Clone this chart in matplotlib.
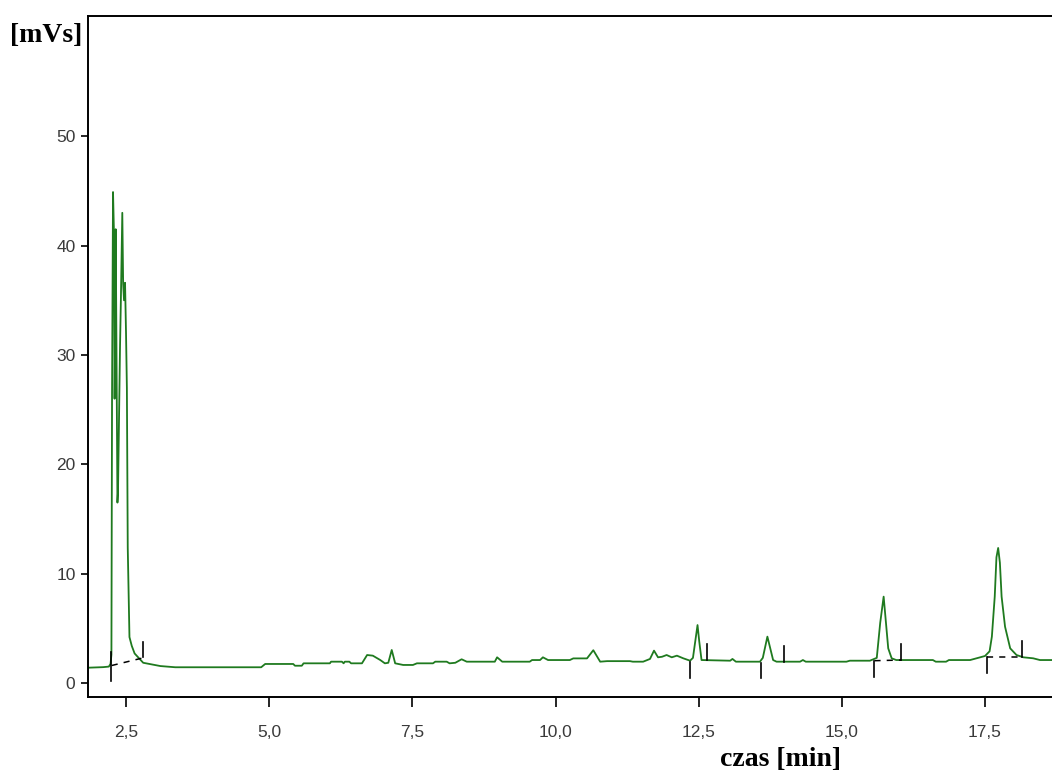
import matplotlib
matplotlib.use("Agg")
import matplotlib.pyplot as plt

# chromatogram trace (time in min, signal in mVs)
time_min = [1.84, 2.10, 2.20, 2.23, 2.245, 2.256, 2.273, 2.29, 2.30, 2.307, 2.32,
            2.334, 2.35, 2.36, 2.38, 2.395, 2.41, 2.435, 2.45, 2.465, 2.483, 2.50,
            2.515, 2.53, 2.56, 2.60, 2.65, 2.72, 2.80, 2.95, 3.10, 3.36,
            4.86, 4.93, 5.42, 5.45, 5.57, 5.60, 6.06, 6.08, 6.27, 6.30, 6.32, 6.40,
            6.43, 6.62, 6.68, 6.71, 6.81, 6.94, 7.02, 7.08, 7.14, 7.20, 7.34, 7.51,
            7.58, 7.86, 7.90, 8.10, 8.15, 8.25, 8.36, 8.45, 8.94, 8.98, 9.07, 9.55,
            9.59, 9.73, 9.78, 9.87, 10.25, 10.31, 10.55, 10.66, 10.78, 10.90, 11.30,
            11.35, 11.53, 11.60, 11.65, 11.72, 11.79, 11.86, 11.94, 12.03, 12.12,
            12.23, 12.35, 12.40, 12.45, 12.48, 12.51, 12.55, 13.05, 13.09, 13.15,
            13.57, 13.62, 13.70, 13.80, 13.86, 14.27, 14.32, 14.37, 15.08, 15.14,
            15.49, 15.61, 15.67, 15.73, 15.81, 15.87, 15.95, 16.59, 16.64, 16.82,
            16.87, 17.24, 17.35, 17.50, 17.58, 17.62, 17.67, 17.70, 17.73, 17.76,
            17.79, 17.85, 17.94, 18.05, 18.17, 18.34, 18.46, 18.70]
signal_mvs = [1.40, 1.45, 1.50, 1.75, 2.6, 26.5, 44.9, 41.0, 26.0, 30.0, 41.5,
              30.0, 16.5, 17.5, 25.0, 30.7, 35.0, 43.0, 36.5, 35.0, 36.6, 32.0,
              27.0, 12.4, 4.2, 3.4, 2.7, 2.3, 1.85, 1.70, 1.55, 1.44,
              1.44, 1.74, 1.74, 1.58, 1.58, 1.80, 1.80, 1.95, 1.95, 1.80, 1.95, 1.95,
              1.80, 1.80, 2.30, 2.56, 2.50, 2.10, 1.80, 1.85, 3.02, 1.80, 1.65, 1.65,
              1.80, 1.80, 1.95, 1.95, 1.80, 1.85, 2.17, 1.95, 1.95, 2.35, 1.95, 1.95,
              2.10, 2.10, 2.35, 2.10, 2.10, 2.25, 2.25, 3.00, 1.95, 2.00, 2.00,
              1.95, 1.95, 2.10, 2.20, 2.96, 2.35, 2.40, 2.56, 2.35, 2.50,
              2.26, 2.04, 2.30, 4.2, 5.3, 3.8, 2.10, 2.04, 2.20, 1.95,
              1.95, 2.30, 4.24, 2.10, 1.95, 1.95, 2.10, 1.95, 1.95, 2.04,
              2.04, 2.30, 5.5, 7.9, 3.17, 2.26, 2.10, 2.10, 1.95, 1.95,
              2.10, 2.10, 2.26, 2.47, 2.90, 4.24, 7.9, 11.5, 12.35, 11.0,
              7.9, 5.15, 3.17, 2.56, 2.35, 2.26, 2.10, 2.10]

# peak start / end markers: (time, low, high)
marker_t = [2.24, 2.80, 12.34, 12.65, 13.59, 13.99, 15.57, 16.04, 17.53, 18.15]
marker_lo = [0.2, 2.35, 0.43, 2.10, 0.43, 1.95, 0.58, 2.10, 0.88, 2.35]
marker_hi = [2.86, 3.78, 1.95, 3.57, 1.86, 3.39, 2.04, 3.57, 2.35, 3.87]

# dashed integration baselines
base_t0 = [2.25, 15.57, 17.53]
base_v0 = [1.60, 2.04, 2.35]
base_t1 = [2.80, 16.04, 18.15]
base_v1 = [2.30, 2.10, 2.35]

xticks = [2.5, 5.0, 7.5, 10.0, 12.5, 15.0, 17.5]
xtick_labels = ["2,5", "5,0", "7,5", "10,0", "12,5", "15,0", "17,5"]
yticks = [0, 10, 20, 30, 40, 50]

fig = plt.figure(figsize=(10.52, 7.76), dpi=100)
ax = fig.add_axes([88/1052, 79/776, (1052-88)/1052, 681/776])

ax.plot(time_min, signal_mvs, color="#1f7a1f", lw=1.3)
for t, lo, hi in zip(marker_t, marker_lo, marker_hi):
    ax.plot([t, t], [lo, hi], color="black", lw=1.2)
for t0, v0, t1, v1 in zip(base_t0, base_v0, base_t1, base_v1):
    ax.plot([t0, t1], [v0, v1], color="black", lw=1.1, ls=(0, (4, 4)))

ax.set_xlim(1.836, 18.67)
ax.set_ylim(-1.28, 61.0)
ax.set_xticks(xticks)
ax.set_xticklabels(xtick_labels)
ax.set_yticks(yticks)
ax.tick_params(axis="x", length=7, width=1.2, pad=13, labelsize=12.5, labelcolor="#3a3a3a")
ax.tick_params(axis="y", length=5, width=1.2, pad=4, labelsize=12.5, labelcolor="#3a3a3a")
for lab in ax.get_xticklabels() + ax.get_yticklabels():
    lab.set_family("Liberation Sans")
ax.spines["right"].set_visible(False)
for s in ["left", "top", "bottom"]:
    ax.spines[s].set_linewidth(1.4)

fig.text(10/1052, 1 - 35/776, "[mVs]", family="Liberation Serif", weight="bold",
         fontsize=20, va="center", ha="left")
fig.text(720/1052, 1 - 760/776, "czas [min]", family="Liberation Serif", weight="bold",
         fontsize=20, va="center", ha="left")

fig.savefig("out.png", dpi=100)
